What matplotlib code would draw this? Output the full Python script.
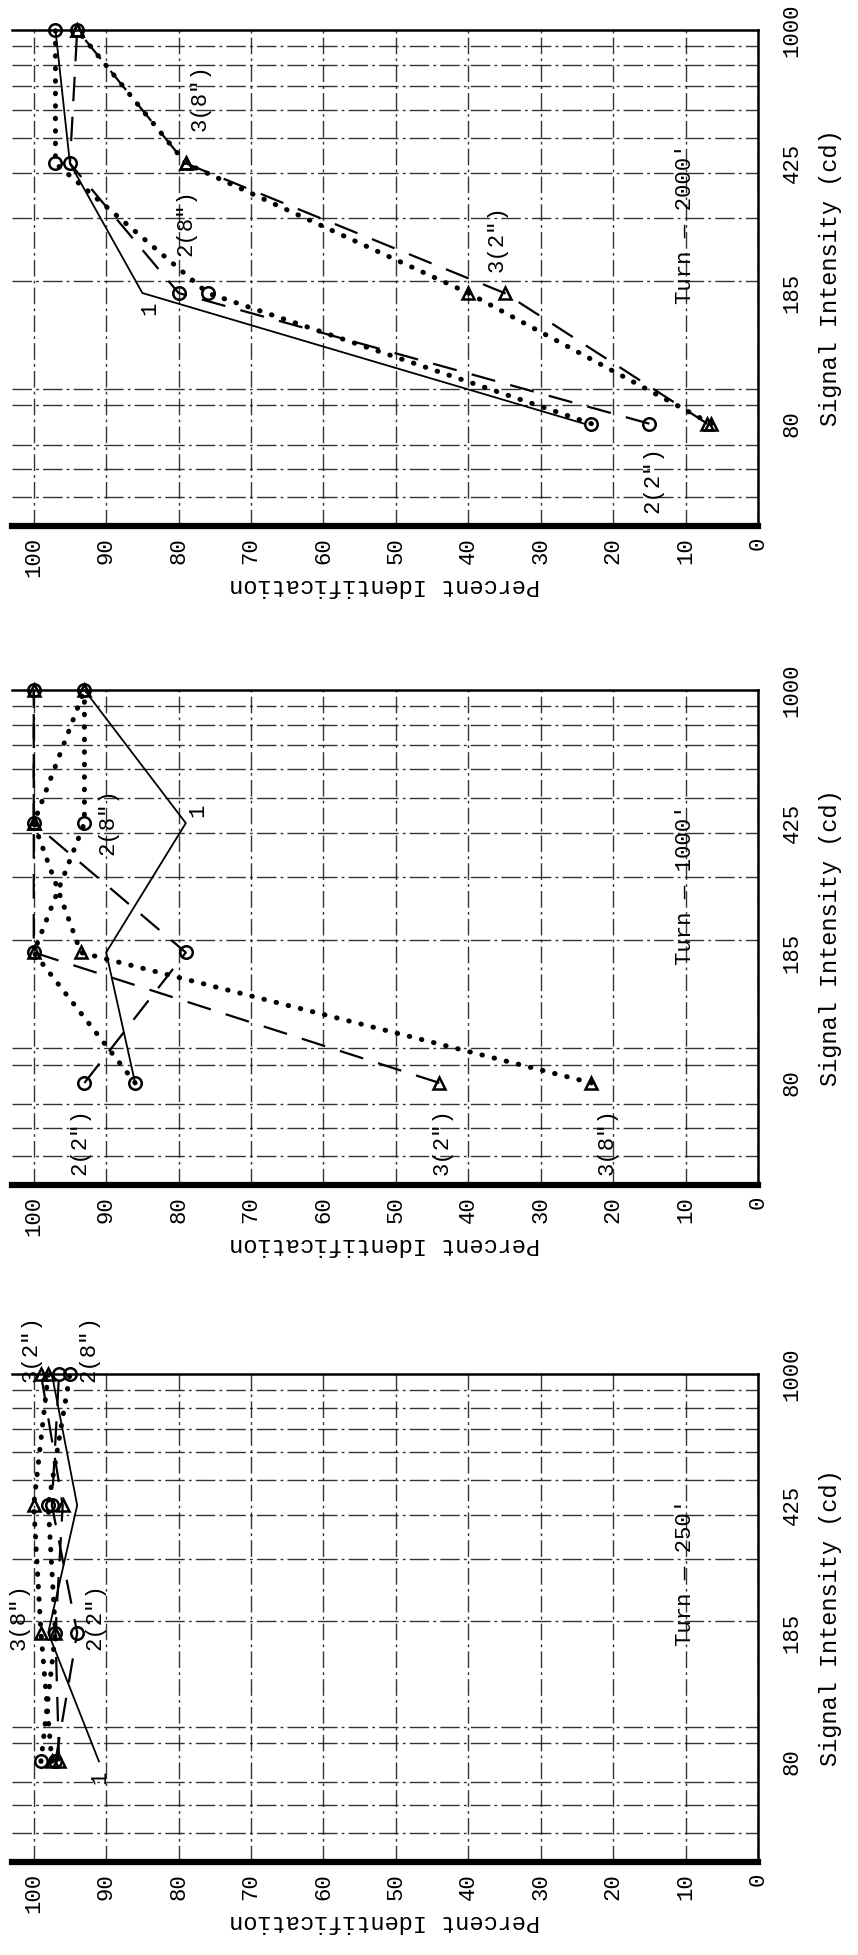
import matplotlib.pyplot as plt
import numpy as np

plt.rcParams['font.family'] = ['Liberation Mono', 'DejaVu Sans Mono']

# signal intensities (cd) where identification was measured
intensity = [80, 185, 425, 1000]
intensity_ticks = [80, 185, 425, 1000]
pct_ticks = [0, 10, 20, 30, 40, 50, 60, 70, 80, 90, 100]

# Turn - 2000'
t2000_1 = [24, 85, 95, 97]
t2000_2_2 = [15, 80, 95, 94]
t2000_2_8 = [23, 76, 97, 97]
t2000_3_2 = [7, 35, 79, 94]
t2000_3_8 = [6.5, 40, 79, 94]

# Turn - 1000'
t1000_1 = [86, 90, 79, 93]
t1000_2_2 = [93, 79, 100, 100]
t1000_2_8 = [86, 100, 93, 93]
t1000_3_2 = [44, 100, 100, 100]
t1000_3_8 = [23, 93.5, 100, 93]

# Turn - 250'
t250_1 = [91, 98, 94, 97.5]
t250_2_2 = [97, 94, 97.5, 96.5]
t250_2_8 = [99, 97, 98, 95]
t250_3_2 = [96.5, 97, 96, 99]
t250_3_8 = [97.5, 99, 100, 98]

# curve labels written on each chart: (text, percent, intensity)
lab2000 = [('1', 84, 168), ('2(8")', 79, 290), ('3(8")', 77, 650),
           ('3(2")', 36, 262), ('2(2")', 14.5, 56)]
lab1000 = [('2(2")', 93.6, 55), ('3(2")', 43.6, 55), ('3(8")', 20.8, 55),
           ('2(8")', 89.8, 430), ('1', 77.3, 462)]
lab250 = [('3(2")', 100.3, 1180), ('2(8")', 92.4, 1180), ('3(8")', 102, 205),
          ('2(2")', 91.5, 205), ('1', 90.9, 72)]

panels = [
    ("Turn \u2014 2000'", [t2000_1, t2000_2_2, t2000_2_8, t2000_3_2, t2000_3_8], lab2000, 288),
    ("Turn \u2014 1000'", [t1000_1, t1000_2_2, t1000_2_8, t1000_3_2, t1000_3_8], lab1000, 286),
    ("Turn \u2014 250'", [t250_1, t250_2_2, t250_2_8, t250_3_2, t250_3_8], lab250, 275),
]

# log-paper ruling
paper_y = [50, 60, 70, 80, 90, 100, 200, 300, 400, 500, 600, 700, 800, 900]

dotted = (0, (0.1, 2.4))
dashed = (0, (11, 7))
styles = [
    dict(ls='-', lw=1.3, marker=None),
    dict(ls=dashed, lw=1.6, marker='o'),
    dict(ls=dotted, lw=3.6, marker='o', dash_capstyle='round'),
    dict(ls=dashed, lw=1.6, marker='^'),
    dict(ls=dotted, lw=3.6, marker='^', dash_capstyle='round'),
]

fig = plt.figure(figsize=(8.58, 19.55), dpi=100)

H = 1955.0
W = 858.0
boxes = [(30, 526), (690, 1185), (1374, 1862)]

for (title, data, labels, ty), (top, bot) in zip(panels, boxes):
    ax = fig.add_axes([12 / W, 1 - bot / H, 746 / W, (bot - top) / H])
    ax.set_yscale('log')
    ax.set_xlim(103, 0)
    ax.set_ylim(41.5, 1000)

    for vals, st in zip(data, styles):
        ax.plot(vals, intensity, color='black', linestyle=st['ls'], lw=st['lw'],
                marker=st['marker'], markersize=9, markerfacecolor='none',
                markeredgewidth=1.8, markeredgecolor='black',
                dash_capstyle=st.get('dash_capstyle', 'butt'),
                clip_on=False, zorder=3)

    for txt, px, py in labels:
        ax.text(px, py, txt, rotation=90, ha='center', va='center',
                fontsize=16, clip_on=False, zorder=4)
    ax.text(10, ty, title, rotation=90, ha='center', va='center', fontsize=16)

    # ticks and ruling
    ax.set_xticks(pct_ticks)
    ax.set_xticklabels([str(v) for v in pct_ticks])
    ax.yaxis.set_major_locator(plt.FixedLocator(intensity_ticks))
    ax.yaxis.set_major_formatter(plt.FixedFormatter([str(v) for v in intensity_ticks]))
    ax.yaxis.set_minor_locator(plt.FixedLocator(paper_y))
    ax.yaxis.set_minor_formatter(plt.NullFormatter())
    ax.yaxis.tick_right()
    ax.yaxis.set_label_position('right')
    ax.tick_params(axis='x', length=0, pad=8, labelsize=16, labelrotation=90)
    ax.tick_params(axis='y', which='both', length=0, pad=17, labelsize=16,
                   labelrotation=90)
    for t in ax.get_yticklabels():
        t.set_va('center')
    ax.grid(axis='x', which='major', color='black', lw=1.0,
            linestyle=(0, (12, 3, 2, 3)), alpha=0.8)
    ax.grid(axis='y', which='minor', color='black', lw=1.0,
            linestyle=(0, (14, 3, 2, 3)), alpha=0.8)
    ax.grid(axis='y', which='major', visible=False)

    ax.spines['left'].set_visible(False)
    ax.spines['bottom'].set_linewidth(4.5)
    ax.spines['top'].set_linewidth(1.8)
    ax.spines['right'].set_linewidth(1.8)

    ax.set_xlabel('Percent Identification', rotation=180, fontsize=17, labelpad=-2)
    ax.set_ylabel('Signal Intensity (cd)', rotation=90, fontsize=17, labelpad=12)

fig.savefig('out.png', dpi=100)
